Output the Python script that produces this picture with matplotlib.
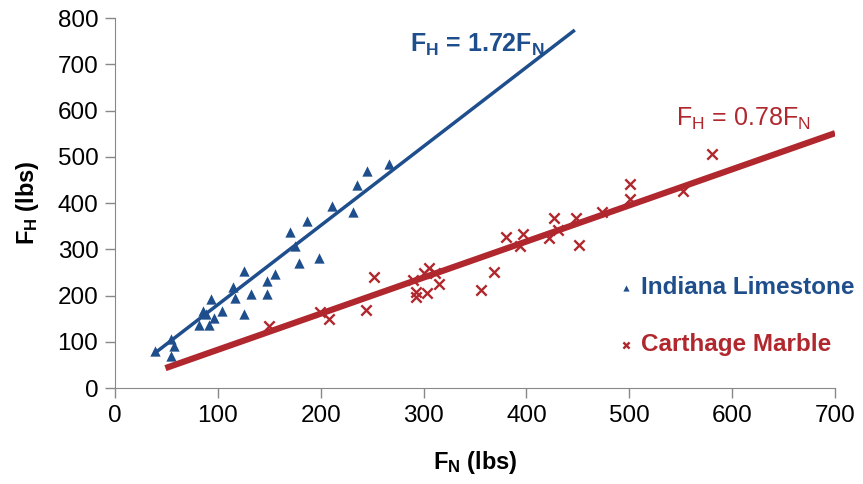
import matplotlib
matplotlib.use('Agg')
import matplotlib.pyplot as plt

plt.rcParams['font.family'] = ['Liberation Sans', 'DejaVu Sans']
plt.rcParams['mathtext.default'] = 'regular'

# Indiana Limestone (FN, FH) in lbs
il_fn = [39, 54, 57, 54, 82, 91, 86, 88, 96, 93, 104, 125, 115, 117, 125, 132, 148, 148,
         156, 170, 175, 179, 187, 198, 211, 231, 235, 245, 266]
il_fh = [79, 107, 90, 69, 136, 136, 167, 161, 151, 192, 167, 160, 219, 194, 253, 203, 203, 232,
         247, 338, 307, 270, 362, 282, 394, 381, 439, 470, 484]

# Carthage Marble (FN, FH) in lbs
cm_fn = [150, 199, 208, 252, 244, 305, 300, 311, 293, 293, 303, 315, 290, 356, 368, 380,
         397, 394, 422, 427, 431, 448, 451, 473, 501, 501, 552, 580]
cm_fh = [134, 165, 150, 241, 169, 260, 248, 249, 208, 197, 205, 225, 234, 213, 250, 327,
         332, 306, 324, 367, 342, 367, 309, 380, 442, 408, 426, 507]

# trend line end points
il_fit_x = [39, 447]
il_fit_y = [76, 774]
cm_fit_x = [49, 700]
cm_fit_y = [43, 551]

blue = '#1F4E8C'
red = '#B0282E'

fig = plt.figure(figsize=(8.63, 4.84), dpi=100)
ax = fig.add_axes([0.1333, 0.1983, 0.8343, 0.7645])

sc1 = ax.scatter(il_fn, il_fh, marker='^', s=55, color=blue, linewidths=0, zorder=2,
                 label='Indiana Limestone')
sc2 = ax.scatter(cm_fn, cm_fh, marker='x', s=55, color=red, linewidths=1.7, zorder=2,
                 label='Carthage Marble')
ax.plot(il_fit_x, il_fit_y, color=blue, linewidth=2.5, zorder=3, solid_capstyle='butt')
ax.plot(cm_fit_x, cm_fit_y, color=red, linewidth=4.5, zorder=3, solid_capstyle='butt')

ax.text(287, 728, '$F_H$ = 1.72$F_N$', color=blue, fontsize=18, fontweight='bold')
ax.text(545, 566, '$F_H$ = 0.78$F_N$', color=red, fontsize=18)

ax.set_xlim(0, 700)
ax.set_ylim(0, 800)
ax.set_xticks(range(0, 701, 100))
ax.set_yticks(range(0, 801, 100))
ax.tick_params(labelsize=17.5, color='#888888', length=7, width=1, pad=5)
for s in ['top', 'right']:
    ax.spines[s].set_visible(False)
for s in ['left', 'bottom']:
    ax.spines[s].set_color('#888888')

ax.set_xlabel('$F_N$ (lbs)', fontsize=17, fontweight='bold', labelpad=16)
ax.set_ylabel('$F_H$ (lbs)', fontsize=17, fontweight='bold', labelpad=12)

leg = ax.legend(handles=[sc1, sc2], loc='upper left', bbox_to_anchor=(0.700, 0.450),
                bbox_transform=fig.transFigure, frameon=False, fontsize=17.5,
                markerscale=0.6, handletextpad=0.1, handlelength=1.0,
                labelspacing=1.4, borderaxespad=0)
for t, c in zip(leg.get_texts(), [blue, red]):
    t.set_color(c)
    t.set_fontweight('bold')

fig.savefig('out.png', dpi=100)
